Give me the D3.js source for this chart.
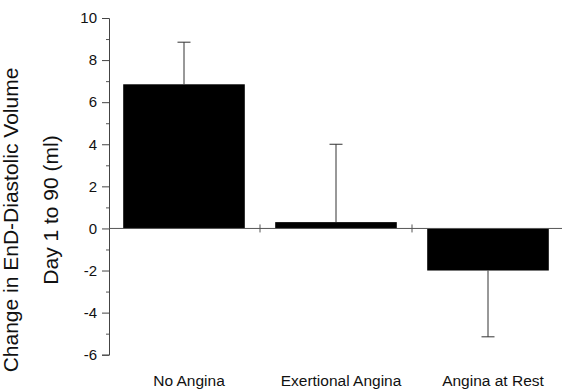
<!DOCTYPE html>
<html>
<head>
<meta charset="utf-8">
<script src="https://cdn.jsdelivr.net/npm/d3@7"></script>
<style>
  body { margin: 0; background: #fff; }
  svg { display: block; font-family: "Liberation Sans", Arial, sans-serif; }
</style>
</head>
<body>
<svg id="chart" width="562" height="389"></svg>
<script>
// values
const categories = ['No Angina', 'Exertional Angina', 'Angina at Rest'];
const means = [6.85, 0.3, -2.0];
const errors = [2.0, 3.7, 3.15];
const majorTicks = [-6, -4, -2, 0, 2, 4, 6, 8, 10];
const minorTicks = [-5, -3, -1, 1, 3, 5, 7, 9];
const titleLines = ['Change in EnD-Diastolic Volume', 'Day 1 to 90 (ml)'];

const svg = d3.select('#chart');
const axisX = 109;

const x = d3.scaleBand()
  .domain(categories)
  .range([108, 564])
  .padding(0);

const y = d3.scaleLinear()
  .domain([-6, 10])
  .range([354.7, 18]);

const barW = x.bandwidth() * 0.8;

const data = categories.map((c, i) => ({ name: c, mean: means[i], err: errors[i] }));

// y axis, major ticks with labels (plain hyphen for negatives)
const yAxis = d3.axisLeft(y)
  .tickValues(majorTicks)
  .tickSize(7)
  .tickPadding(5)
  .tickFormat(d => String(d));

const gy = svg.append('g')
  .attr('transform', 'translate(' + axisX + ',0)')
  .call(yAxis);
gy.select('.domain').attr('stroke', '#444').attr('stroke-width', 1);
gy.selectAll('.tick line').attr('stroke', '#444');
gy.selectAll('.tick text')
  .attr('fill', '#111')
  .style('font-size', '15px')
  .style('font-family', '"Liberation Sans", Arial, sans-serif');

// minor ticks
const gm = svg.append('g')
  .attr('transform', 'translate(' + axisX + ',0)')
  .call(d3.axisLeft(y).tickValues(minorTicks).tickSize(3).tickFormat(''));
gm.select('.domain').remove();
gm.selectAll('.tick line').attr('stroke', '#555');

// bars
svg.selectAll('rect.bar')
  .data(data)
  .enter()
  .append('rect')
  .attr('class', 'bar')
  .attr('x', d => x(d.name) + (x.bandwidth() - barW) / 2)
  .attr('y', d => y(Math.max(0, d.mean)))
  .attr('width', barW)
  .attr('height', d => Math.abs(y(d.mean) - y(0)))
  .attr('fill', '#000');

// error bars (one-sided, away from zero)
const errEnd = d => d.mean >= 0 ? d.mean + d.err : d.mean - d.err;
const cx = d => x(d.name) + x.bandwidth() / 2;

svg.selectAll('line.err')
  .data(data)
  .enter()
  .append('line')
  .attr('class', 'err')
  .attr('x1', cx)
  .attr('x2', cx)
  .attr('y1', d => y(d.mean))
  .attr('y2', d => y(errEnd(d)))
  .attr('stroke', '#333')
  .attr('stroke-width', 1);

svg.selectAll('line.cap')
  .data(data)
  .enter()
  .append('line')
  .attr('class', 'cap')
  .attr('x1', d => cx(d) - 6.5)
  .attr('x2', d => cx(d) + 6.5)
  .attr('y1', d => y(errEnd(d)))
  .attr('y2', d => y(errEnd(d)))
  .attr('stroke', '#333')
  .attr('stroke-width', 1);

// zero line with category separator ticks
svg.append('line')
  .attr('x1', axisX)
  .attr('x2', 562)
  .attr('y1', y(0))
  .attr('y2', y(0))
  .attr('stroke', '#555')
  .attr('stroke-width', 1);

svg.selectAll('line.sep')
  .data(categories.slice(1))
  .enter()
  .append('line')
  .attr('class', 'sep')
  .attr('x1', d => x(d))
  .attr('x2', d => x(d))
  .attr('y1', y(0) - 4)
  .attr('y2', y(0) + 4)
  .attr('stroke', '#555');

// category labels
svg.selectAll('text.cat')
  .data(categories)
  .enter()
  .append('text')
  .attr('class', 'cat')
  .attr('x', d => x(d) + x.bandwidth() / 2 + 5)
  .attr('y', 386)
  .attr('text-anchor', 'middle')
  .style('font-size', '15.5px')
  .attr('fill', '#111')
  .text(d => d);

// y title, two rotated lines
svg.append('text')
  .attr('transform', 'translate(18,220) rotate(-90)')
  .attr('text-anchor', 'middle')
  .style('font-size', '21px')
  .attr('fill', '#111')
  .text(titleLines[0]);

svg.append('text')
  .attr('transform', 'translate(58,210) rotate(-90)')
  .attr('text-anchor', 'middle')
  .style('font-size', '21px')
  .attr('fill', '#111')
  .text(titleLines[1]);
</script>
</body>
</html>
